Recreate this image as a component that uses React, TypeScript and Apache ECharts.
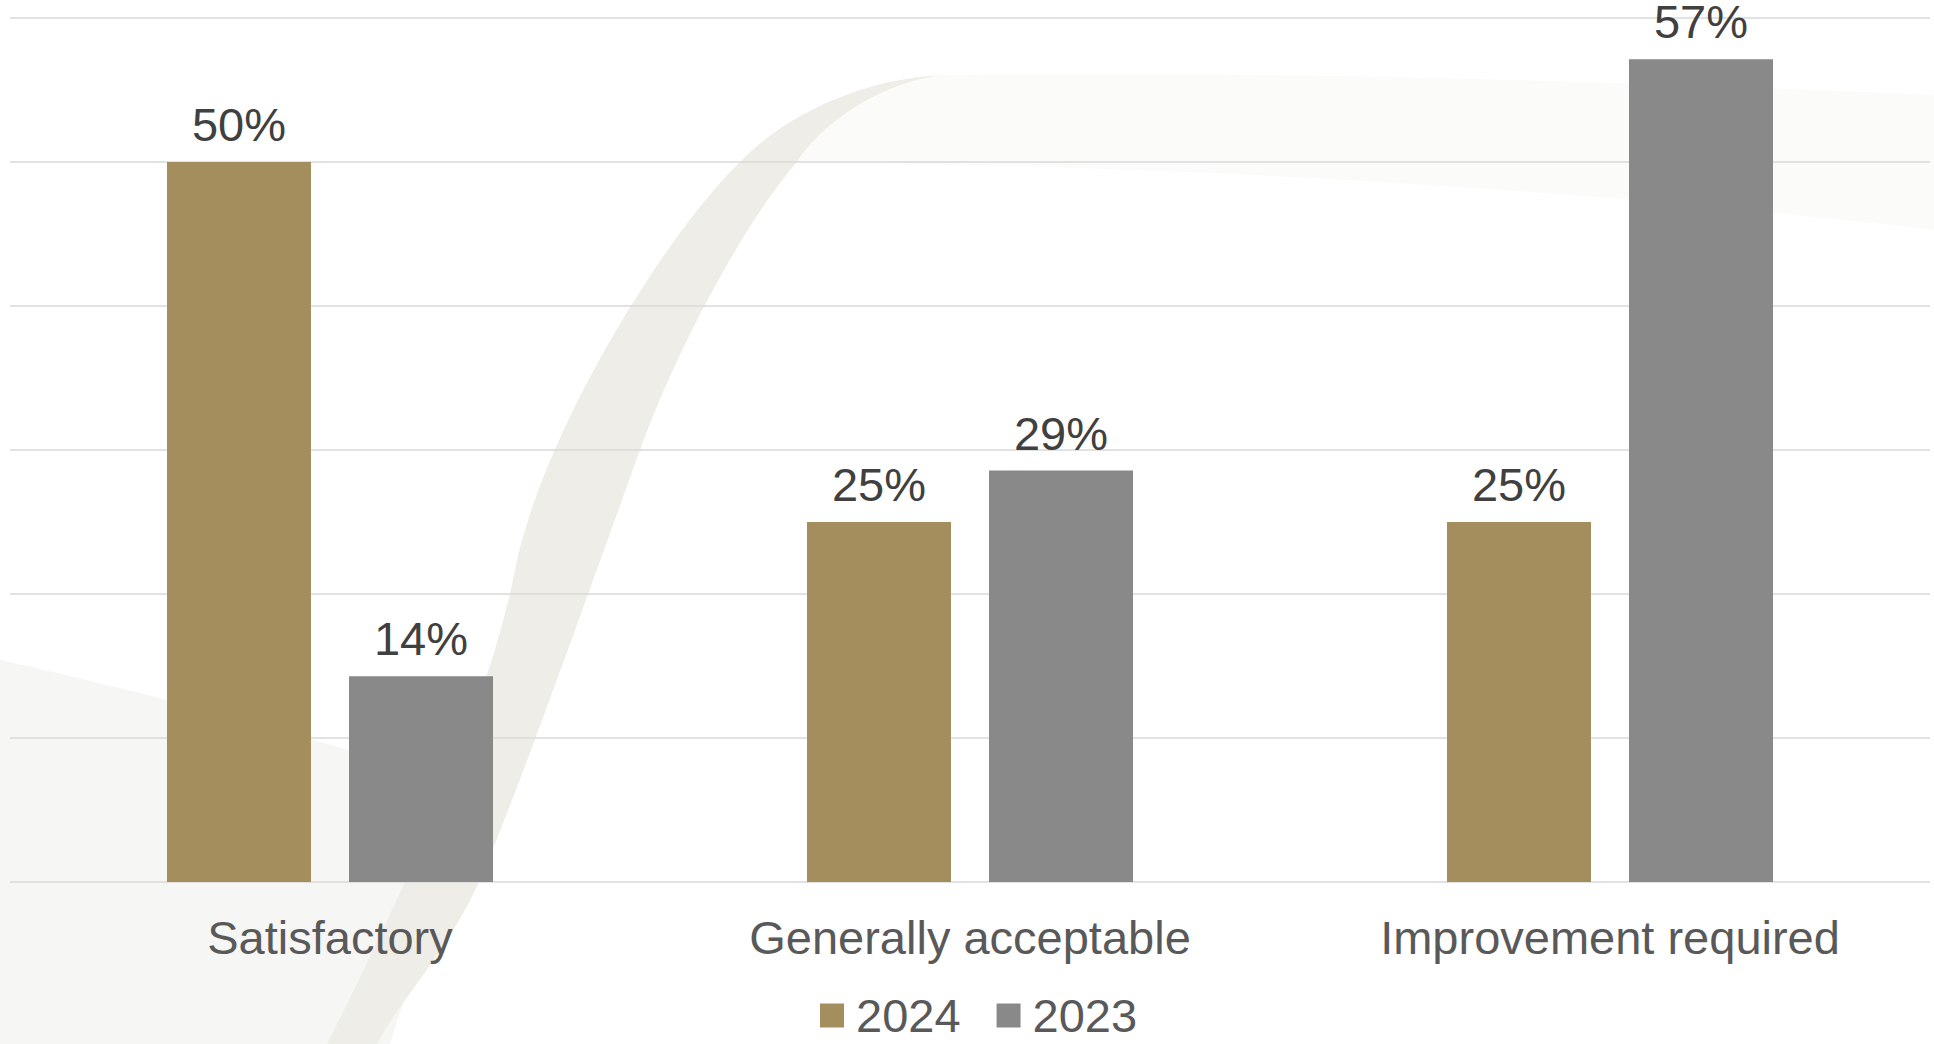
import React, { useEffect, useRef } from "react";
import * as echarts from "echarts";

const categories = ["Satisfactory", "Generally acceptable", "Improvement required"];
const series2024 = [50, 25, 25];
const series2023 = [14.29, 28.57, 57.14];
const seriesNames = ["2024", "2023"];
const yTicks = { min: 0, max: 60, interval: 10 };

const FONT = "'Liberation Sans', Arial, Helvetica, sans-serif";

const BAND_D =
  "M327 1044 C410 880 490 700 515 570 C540 440 660 240 740 162 C790 110 870 78 943 75 " +
  "C880 82 820 125 797 162 C750 215 680 340 640 450 C600 560 530 760 483 873 C450 950 400 1000 377 1044 Z";
const LOWLEFT_D = "M0 660 C180 700 360 750 470 790 L390 1044 L0 1044 Z";
const UPRIGHT_D =
  "M943 75 C1200 70 1600 80 1934 95 L1934 230 C1500 180 1100 165 797 162 C830 110 880 82 943 75 Z";

export default function App() {
  const ref = useRef<HTMLDivElement>(null);
  useEffect(() => {
    if (!ref.current) return;
    try {
      echarts.graphic.registerShape("swooshBand", echarts.graphic.extendPath(BAND_D, {}) as any);
      echarts.graphic.registerShape("swooshLow", echarts.graphic.extendPath(LOWLEFT_D, {}) as any);
      echarts.graphic.registerShape("swooshUp", echarts.graphic.extendPath(UPRIGHT_D, {}) as any);
    } catch (e) {}
    const chart = echarts.init(ref.current, null, { renderer: "svg" });
    const labelFmt = (p: any) => Math.round(p.value) + "%";
    const labelStyle = {
      show: true,
      position: "top",
      distance: 14,
      formatter: labelFmt,
      fontFamily: FONT,
      fontSize: 47,
      color: "#404040",
    };
    chart.setOption({
      animation: false,
      backgroundColor: "#ffffff",
      graphic: [
        { type: "swooshLow", x: 0, y: 0, z: -10, silent: true, style: { fill: "#f6f6f4" } },
        { type: "swooshUp", x: 0, y: 0, z: -10, silent: true, style: { fill: "#fbfbfa" } },
        { type: "swooshBand", x: 0, y: 0, z: -9, silent: true, style: { fill: "#efede7" } },
      ],
      grid: { left: 10, right: 4, top: 18, bottom: 162, containLabel: false },
      legend: {
        data: seriesNames,
        left: 820,
        top: 992,
        padding: 0,
        itemWidth: 24,
        itemHeight: 24,
        itemGap: 36,
        icon: "rect",
        textStyle: { fontFamily: FONT, fontSize: 47, color: "#595959", padding: [0, 0, 0, 7] },
      },
      xAxis: {
        type: "category",
        data: categories,
        axisLine: { show: false },
        axisTick: { show: false },
        axisLabel: { fontFamily: FONT, fontSize: 47, color: "#595959", margin: 32 },
      },
      yAxis: {
        type: "value",
        min: yTicks.min,
        max: yTicks.max,
        interval: yTicks.interval,
        axisLabel: { show: false },
        axisLine: { show: false },
        axisTick: { show: false },
        splitLine: { show: true, lineStyle: { color: "#d9d9d9", width: 1.5 } },
      },
      series: [
        {
          name: seriesNames[0],
          type: "bar",
          data: series2024,
          barWidth: 144,
          barGap: "26.4%",
          itemStyle: { color: "#a48e5e" },
          label: labelStyle,
        },
        {
          name: seriesNames[1],
          type: "bar",
          data: series2023,
          barWidth: 144,
          barGap: "26.4%",
          itemStyle: { color: "#898989" },
          label: labelStyle,
        },
      ],
    });
    return () => chart.dispose();
  }, []);
  return (
    <div
      ref={ref}
      style={{ position: "absolute", left: 0, top: 0, width: 1934, height: 1044 }}
    />
  );
}
